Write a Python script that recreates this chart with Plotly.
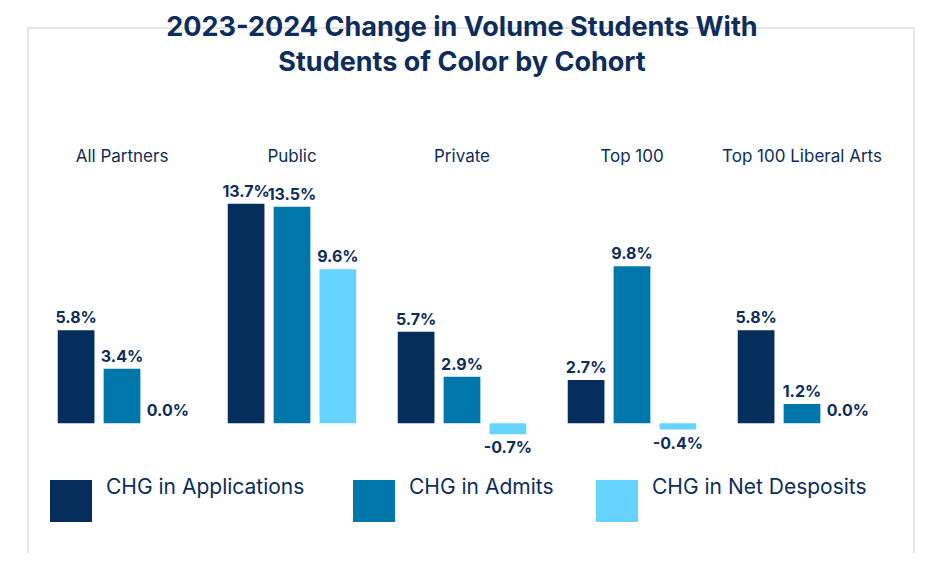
import plotly.graph_objects as go

cohorts = ["All Partners", "Public", "Private", "Top 100", "Top 100 Liberal Arts"]
series = ["CHG in Applications", "CHG in Admits", "CHG in Net Desposits"]
applications = [5.8, 13.7, 5.7, 2.7, 5.8]
admits = [3.4, 13.5, 2.9, 9.8, 1.2]
net_deposits = [0.0, 9.6, -0.7, -0.4, 0.0]
colors = ["#062e5c", "#0077aa", "#66d4ff"]

navy = "#0d2d5c"
OFF = 8  # page body margin
W, H = 911, 545
L, R, T, B = 29, 32, 162, 93
pw, ph = W - L - R, H - T - B

def px(x):
    return (x - OFF - L) / pw

def py(y):
    return (H - B - (y - OFF)) / ph

fig = go.Figure()
for name, vals, c in zip(series, [applications, admits, net_deposits], colors):
    fig.add_trace(go.Bar(
        x=cohorts, y=vals, name=name, marker_color=c,
        text=[f"{v:.1f}%" for v in vals], textposition="outside",
        constraintext="none",
        textfont=dict(size=16, color=navy, family="Inter", weight="bold"),
        cliponaxis=False, showlegend=False,
    ))

shapes = [dict(type="rect", xref="paper", yref="paper",
               x0=px(28), x1=px(914), y0=py(556), y1=py(28),
               line=dict(color="#cccccc", width=1))]
annotations = []
legend_x = [50, 353, 596]
for name, c, lx in zip(series, colors, legend_x):
    shapes.append(dict(type="rect", xref="paper", yref="paper",
                       x0=px(lx), x1=px(lx + 42), y0=py(522), y1=py(480),
                       fillcolor=c, line_width=0))
    annotations.append(dict(xref="paper", yref="paper", x=px(lx + 54), y=py(501),
                            text=name, showarrow=False, xanchor="left",
                            font=dict(size=21, color=navy, family="Inter")))

fig.update_layout(
    width=W, height=H, template="none",
    margin=dict(l=L, r=R, t=T, b=B),
    paper_bgcolor="white", plot_bgcolor="white",
    title=dict(text="<b>2023-2024 Change in Volume Students With<br>Students of Color by Cohort</b>",
               x=px(462), xref="paper", xanchor="center",
               yref="container", y=1 - (36 - OFF) / H, yanchor="top",
               font=dict(size=27, color=navy, family="Inter")),
    barmode="group", bargap=0.19, bargroupgap=0.2,
    xaxis=dict(side="top", showgrid=False, showline=False, ticks="",
               tickfont=dict(size=17, color=navy, family="Inter"), ticklabelstandoff=4),
    yaxis=dict(range=[-2.3, 15.8], visible=False, showgrid=False,
               zeroline=True, zerolinecolor="#999999", zerolinewidth=1),
    shapes=shapes, annotations=annotations,
)
fig.write_html("out.html")
